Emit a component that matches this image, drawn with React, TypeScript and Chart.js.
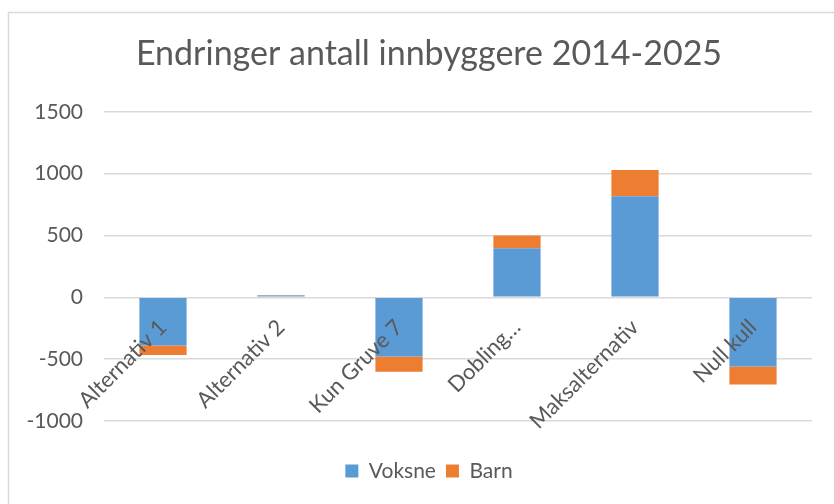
import React, { useEffect, useRef } from "react";
import { Chart, registerables } from "chart.js";

Chart.register(...registerables);

const titleText = "Endringer antall innbyggere 2014-2025";
const categories = ["Alternativ 1", "Alternativ 2", "Kun Gruve 7", "Dobling…", "Maksalternativ", "Null kull"];
const voksne = [-390, 14, -478, 397, 817, -559];
const barn = [-77, 4, -124, 102, 213, -146];
const seriesNames = ["Voksne", "Barn"];
const yMin = -1000;
const yMax = 1500;
const yStep = 500;

const FONT = "Lato, 'Open Sans', sans-serif";
const TEXT = "#595959";
const GRID = "#d9d9d9";

const borderPlugin = {
  id: "outerBorder",
  beforeDraw(chart: any) {
    const ctx = chart.ctx;
    ctx.save();
    ctx.fillStyle = "#ffffff";
    ctx.fillRect(0, 0, chart.width, chart.height);
    ctx.strokeStyle = GRID;
    ctx.lineWidth = 1.5;
    ctx.strokeRect(8.5, 12.5, 1000, 1000);
    ctx.restore();
  },
};

export default function App() {
  const ref = useRef<HTMLCanvasElement | null>(null);
  useEffect(() => {
    if (!ref.current) return;
    const chart = new Chart(ref.current, {
      type: "bar",
      data: {
        labels: categories,
        datasets: [
          {
            label: seriesNames[0],
            data: voksne,
            backgroundColor: "#5B9BD5",
            categoryPercentage: 1,
            barPercentage: 0.4,
          },
          {
            label: seriesNames[1],
            data: barn,
            backgroundColor: "#ED7D31",
            categoryPercentage: 1,
            barPercentage: 0.4,
          },
        ],
      },
      options: {
        responsive: false,
        animation: false,
        layout: { padding: { left: 46, right: 22, top: 12, bottom: 12.5 } },
        plugins: {
          title: {
            display: true,
            text: titleText,
            color: TEXT,
            font: { family: FONT, size: 34, weight: "normal" },
            padding: { top: 22, bottom: 37 },
          },
          legend: {
            position: "bottom",
            labels: {
              boxWidth: 13,
              boxHeight: 13,
              padding: 10,
              color: TEXT,
              font: { family: FONT, size: 21 },
            },
          },
          tooltip: { enabled: false },
        },
        scales: {
          x: {
            stacked: true,
            position: { y: 0 } as any,
            grid: { display: false, drawTicks: false },
            border: { display: false },
            ticks: {
              autoSkip: false,
              maxRotation: 45,
              minRotation: 45,
              padding: 17,
              color: TEXT,
              font: { family: FONT, size: 22 },
              z: 1,
            } as any,
          },
          xSpacer: {
            type: "category",
            position: "bottom",
            labels: categories,
            grid: { display: false, drawTicks: false },
            border: { display: false },
            ticks: { display: false },
            afterFit(scale: any) {
              scale.height = 29.5;
            },
          } as any,
          y: {
            stacked: true,
            min: yMin,
            max: yMax,
            ticks: {
              stepSize: yStep,
              padding: 21,
              color: TEXT,
              font: { family: FONT, size: 21 },
              callback: (v: any) => String(v),
            },
            grid: { color: GRID, lineWidth: 1.5, drawTicks: false },
            border: { display: false },
            afterFit(scale: any) {
              scale.width = 58;
              scale._computeLabelArea = () => undefined;
            },
          },
        },
      },
      plugins: [borderPlugin],
    });
    return () => chart.destroy();
  }, []);
  return (
    <div style={{ position: "fixed", left: 0, top: 0, width: 834, height: 504 }}>
      <canvas ref={ref} width={834} height={504} style={{ width: 834, height: 504 }} />
    </div>
  );
}
